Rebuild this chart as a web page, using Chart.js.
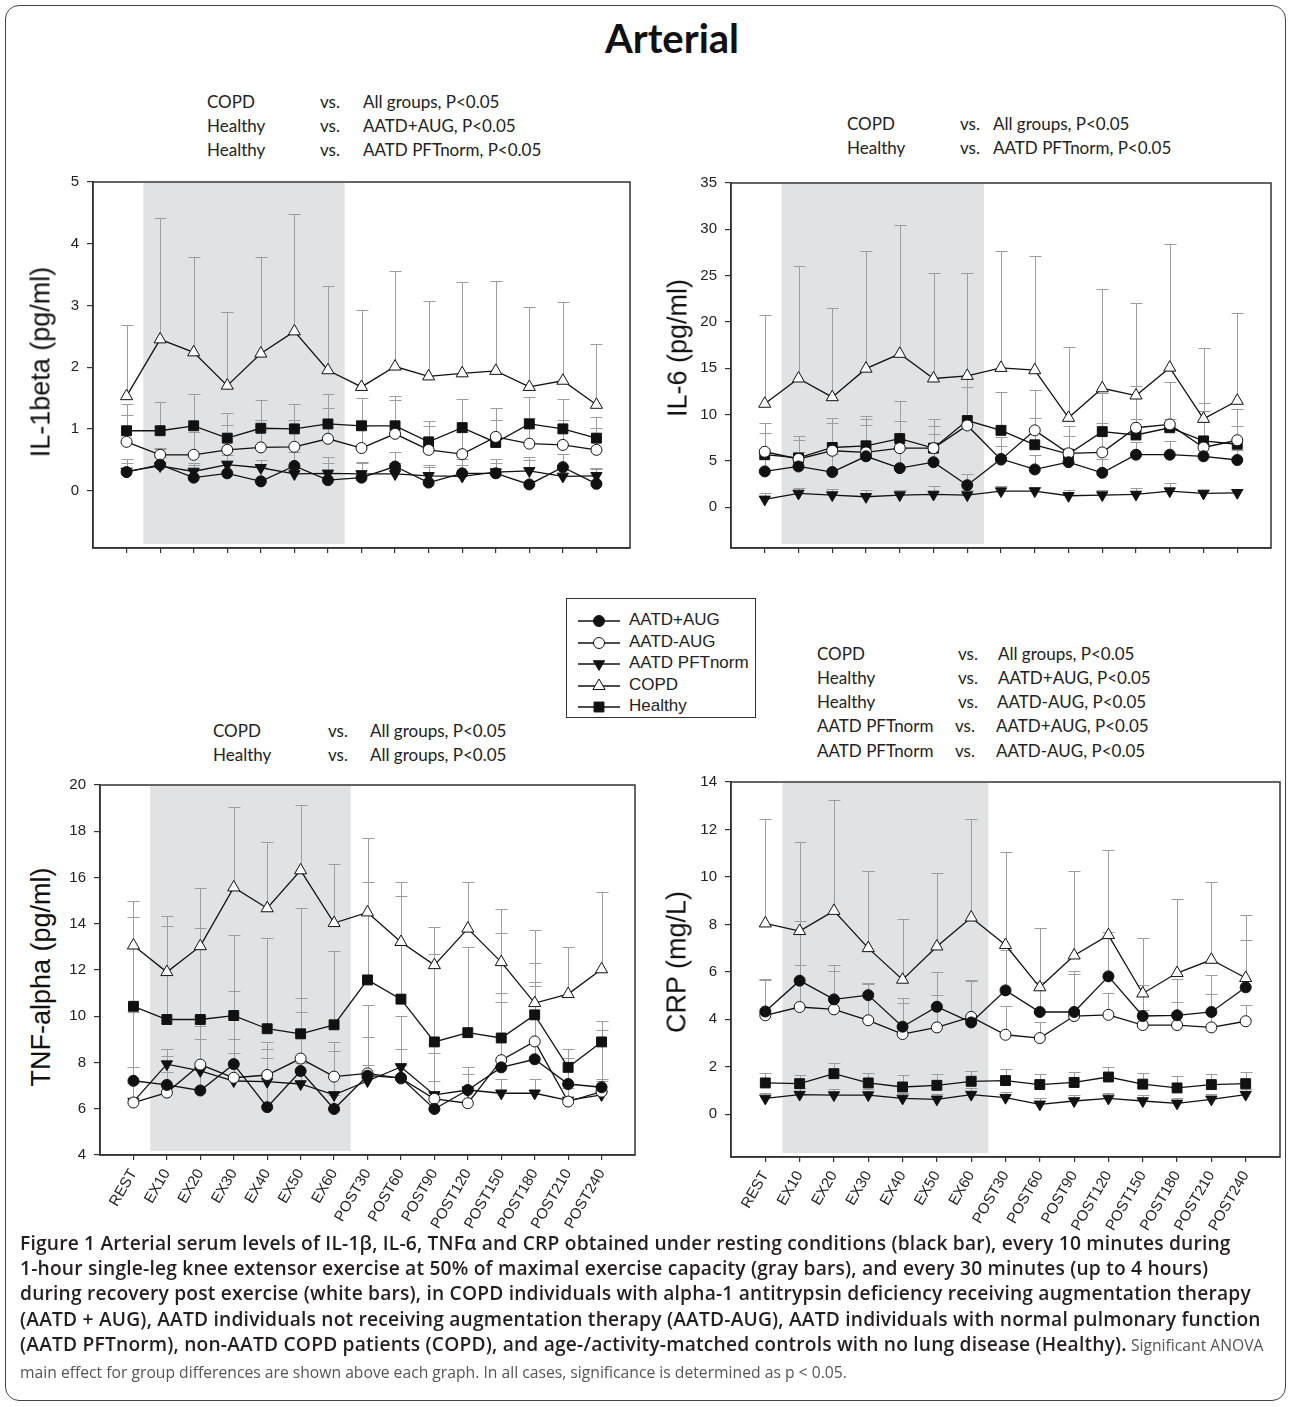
<!DOCTYPE html>
<html>
<head>
<meta charset="utf-8">
<title>Arterial</title>
<script src="https://cdn.jsdelivr.net/npm/chart.js"></script>
<style>
  body { margin: 0; background: #fff; }
  #page { position: relative; width: 1290px; height: 1407px; overflow: hidden; background: #fff; }
  #frame { position: absolute; left: 5px; top: 5px; width: 1281px; height: 1396px; box-sizing: border-box;
           border: 1.5px solid #444; border-radius: 14px; }
  #title { position: absolute; left: 0; width: 1344px; top: 14px; text-align: center;
           font: bold 40px Lato, sans-serif; color: #111; }
  canvas { position: absolute; }
  .note { position: absolute; left: 0; height: 24px; line-height: 24px; font: 17px Lato, sans-serif; color: #222; white-space: nowrap; }
  .note span { position: absolute; }
  .ytitle { position: absolute; transform: translate(-50%, -50%) rotate(-90deg); white-space: nowrap;
            font: 27px 'Liberation Sans', Arial, sans-serif; color: #111; }
  #legend { position: absolute; left: 566px; top: 598px; width: 190px; height: 120px; box-sizing: border-box;
            border: 1px solid #333; background: #fff; }
  .lrow { position: absolute; left: 0; height: 22px; width: 188px; }
  .lrow canvas { position: absolute; left: 11px; top: 3px; }
  .lrow span { position: absolute; left: 62px; top: 0; line-height: 22px; font: 17px 'Liberation Sans', Arial, sans-serif; color: #222; white-space: nowrap; }
  #caption { position: absolute; left: 20px; top: 1230px; font: 600 19.2px 'Open Sans', sans-serif; letter-spacing: 0.2px;
             line-height: 25.2px; color: #231f20; white-space: nowrap; }
  #caption .reg { font-weight: 400; font-size: 15.7px; letter-spacing: 0; color: #555; }
</style>
</head>
<body>
<div id="page">
  <div id="frame"></div>
  <div id="title">Arterial</div>

  <div class="note" style="top:91px"><span style="left:207px">COPD</span><span style="left:320px">vs.</span><span style="left:363px">All groups, P&lt;0.05</span></div>
  <div class="note" style="top:115px"><span style="left:207px">Healthy</span><span style="left:320px">vs.</span><span style="left:363px">AATD+AUG, P&lt;0.05</span></div>
  <div class="note" style="top:139px"><span style="left:207px">Healthy</span><span style="left:320px">vs.</span><span style="left:363px">AATD PFTnorm, P&lt;0.05</span></div>

  <div class="note" style="top:113px"><span style="left:847px">COPD</span><span style="left:960px">vs.</span><span style="left:993px">All groups, P&lt;0.05</span></div>
  <div class="note" style="top:137px"><span style="left:847px">Healthy</span><span style="left:960px">vs.</span><span style="left:993px">AATD PFTnorm, P&lt;0.05</span></div>

  <div class="note" style="top:720px"><span style="left:213px">COPD</span><span style="left:328px">vs.</span><span style="left:370px">All groups, P&lt;0.05</span></div>
  <div class="note" style="top:744px"><span style="left:213px">Healthy</span><span style="left:328px">vs.</span><span style="left:370px">All groups, P&lt;0.05</span></div>

  <div class="note" style="top:643px"><span style="left:817px">COPD</span><span style="left:958px">vs.</span><span style="left:998px">All groups, P&lt;0.05</span></div>
  <div class="note" style="top:667px"><span style="left:817px">Healthy</span><span style="left:958px">vs.</span><span style="left:998px">AATD+AUG, P&lt;0.05</span></div>
  <div class="note" style="top:691px"><span style="left:817px">Healthy</span><span style="left:958px">vs.</span><span style="left:997px">AATD-AUG, P&lt;0.05</span></div>
  <div class="note" style="top:715px"><span style="left:817px">AATD PFTnorm</span><span style="left:955px">vs.</span><span style="left:996px">AATD+AUG, P&lt;0.05</span></div>
  <div class="note" style="top:740px"><span style="left:817px">AATD PFTnorm</span><span style="left:955px">vs.</span><span style="left:996px">AATD-AUG, P&lt;0.05</span></div>

  <canvas id="il1b" width="600" height="400" style="left:50px;top:165px;width:600px;height:400px"></canvas>
  <canvas id="il6" width="600" height="399" style="left:688px;top:166px;width:600px;height:399px"></canvas>
  <canvas id="tnf" width="600" height="480" style="left:57px;top:768px;width:600px;height:480px"></canvas>
  <canvas id="crp" width="600" height="483" style="left:688px;top:765px;width:600px;height:483px"></canvas>

  <div class="ytitle" style="left:41px;top:362px">IL-1beta (pg/ml)</div>
  <div class="ytitle" style="left:678px;top:348px">IL-6 (pg/ml)</div>
  <div class="ytitle" style="left:41px;top:977px">TNF-alpha (pg/ml)</div>
  <div class="ytitle" style="left:677px;top:962px">CRP (mg/L)</div>

  <div id="legend"></div>

  <div id="caption">Figure 1 Arterial serum levels of IL-1β, IL-6, TNFα and CRP obtained under resting conditions (black bar), every 10 minutes during<br>1-hour single-leg knee extensor exercise at 50% of maximal exercise capacity (gray bars), and every 30 minutes (up to 4 hours)<br>during recovery post exercise (white bars), in COPD individuals with alpha-1 antitrypsin deficiency receiving augmentation therapy<br>(AATD + AUG), AATD individuals not receiving augmentation therapy (AATD-AUG), AATD individuals with normal pulmonary function<br>(AATD PFTnorm), non-AATD COPD patients (COPD), and age-/activity-matched controls with no lung disease (Healthy).<span class="reg"> Significant ANOVA</span><br><span class="reg">main effect for group differences are shown above each graph. In all cases, significance is determined as p &lt; 0.05.</span></div>
</div>

<script>
// time points (x axis)
const categories = ['REST', 'EX10', 'EX20', 'EX30', 'EX40', 'EX50', 'EX60',
  'POST30', 'POST60', 'POST90', 'POST120', 'POST150', 'POST180', 'POST210', 'POST240'];
const groups = ['AATD+AUG', 'AATD-AUG', 'AATD PFTnorm', 'COPD', 'Healthy'];

// IL-1beta (pg/ml): means and top of the error bar
const il1bAatdAug = [0.30, 0.42, 0.21, 0.28, 0.15, 0.40, 0.17, 0.21, 0.39, 0.13, 0.28, 0.28, 0.10, 0.38, 0.11];
const il1bAatdAugTop = [0.52, 0.68, 0.42, 0.50, 0.38, 0.62, 0.45, 0.45, 0.62, 0.42, 0.52, 0.52, 0.50, 0.60, 0.35];
const il1bAatdNoAug = [0.79, 0.58, 0.58, 0.66, 0.70, 0.71, 0.84, 0.69, 0.92, 0.66, 0.59, 0.87, 0.76, 0.74, 0.66];
const il1bAatdNoAugTop = [1.23, 0.69, 0.95, 1.06, 1.15, 1.15, 1.34, 1.05, 1.47, 1.05, 0.95, 1.15, 1.18, 1.15, 1.02];
const il1bPftNorm = [0.31, 0.40, 0.31, 0.42, 0.37, 0.27, 0.28, 0.27, 0.27, 0.24, 0.23, 0.30, 0.32, 0.23, 0.24];
const il1bPftNormTop = [0.45, 0.55, 0.45, 0.58, 0.50, 0.40, 0.54, 0.46, 0.45, 0.38, 0.42, 0.45, 0.55, 0.40, 0.36];
const il1bCopd = [1.53, 2.45, 2.24, 1.70, 2.22, 2.58, 1.95, 1.68, 2.01, 1.85, 1.90, 1.94, 1.68, 1.78, 1.39];
const il1bCopdTop = [2.69, 4.42, 3.79, 2.89, 3.79, 4.48, 3.31, 2.93, 3.55, 3.07, 3.38, 3.39, 2.98, 3.05, 2.38];
const il1bHealthy = [0.97, 0.97, 1.05, 0.85, 1.01, 1.00, 1.08, 1.05, 1.05, 0.79, 1.02, 0.78, 1.08, 1.00, 0.85];
const il1bHealthyTop = [1.40, 1.43, 1.56, 1.26, 1.47, 1.40, 1.57, 1.50, 1.54, 1.12, 1.48, 1.34, 1.52, 1.48, 1.20];
const il1bTicks = [0, 1, 2, 3, 4, 5];

// IL-6 (pg/ml)
const il6AatdAug = [3.87, 4.40, 3.80, 5.50, 4.22, 4.86, 2.38, 5.21, 4.08, 4.86, 3.72, 5.67, 5.67, 5.50, 5.10];
const il6AatdAugTop = [5.6, 6.0, 5.8, 8.9, 6.3, 7.9, 3.6, 6.6, 5.6, 6.3, 5.2, 7.0, 7.2, 6.8, 6.2];
const il6AatdNoAug = [5.99, 5.21, 6.10, 5.92, 6.38, 6.38, 8.83, 5.14, 8.30, 5.82, 5.92, 8.58, 8.94, 6.45, 7.23];
const il6AatdNoAugTop = [9.1, 7.3, 9.1, 9.5, 9.3, 8.8, 13.0, 7.6, 12.7, 7.7, 9.1, 13.1, 9.5, 10.4, 8.8];
const il6PftNorm = [0.85, 1.49, 1.31, 1.13, 1.31, 1.38, 1.31, 1.74, 1.74, 1.24, 1.31, 1.38, 1.74, 1.49, 1.56];
const il6PftNormTop = [1.5, 2.1, 2.0, 1.9, 1.9, 2.3, 1.9, 2.3, 2.2, 1.9, 1.9, 2.1, 2.6, 1.9, 2.0];
const il6Copd = [11.17, 13.90, 11.88, 14.96, 16.56, 13.90, 14.18, 15.04, 14.79, 9.65, 12.84, 12.06, 15.07, 9.54, 11.49];
const il6CopdTop = [20.7, 26.0, 21.5, 27.7, 30.5, 25.3, 25.3, 27.7, 27.1, 17.3, 23.6, 22.0, 28.4, 17.2, 21.0];
const il6Healthy = [5.67, 5.32, 6.45, 6.63, 7.41, 6.38, 9.36, 8.30, 6.74, 5.74, 8.16, 7.80, 8.58, 7.16, 6.80];
const il6HealthyTop = [8.05, 7.7, 9.6, 9.8, 11.5, 9.5, 14.0, 12.4, 9.6, 8.8, 12.3, 9.5, 13.5, 11.2, 10.6];
const il6Ticks = [0, 5, 10, 15, 20, 25, 30, 35];

// TNF-alpha (pg/ml)
const tnfAatdAug = [7.21, 7.03, 6.79, 7.93, 6.07, 7.63, 5.99, 7.43, 7.34, 5.99, 6.81, 7.79, 8.14, 7.07, 6.93];
const tnfAatdAugTop = [10.2, 8.3, 9.0, 11.1, 8.6, 10.2, 6.6, 9.1, 10.0, 8.4, 7.8, 10.6, 11.3, 8.2, 9.4];
const tnfAatdNoAug = [6.27, 6.70, 7.91, 7.34, 7.46, 8.17, 7.39, 7.53, 7.31, 6.43, 6.24, 8.10, 8.91, 6.31, 6.74];
const tnfAatdNoAugTop = [7.8, 7.6, 10.0, 9.0, 8.9, 10.8, 8.9, 10.5, 7.9, 8.8, 6.9, 11.0, 11.5, 6.9, 7.3];
const tnfPftNorm = [6.31, 7.93, 7.64, 7.20, 7.17, 7.07, 6.60, 7.20, 7.81, 6.60, 6.81, 6.67, 6.67, 6.36, 6.60];
const tnfPftNormTop = [7.1, 8.6, 9.6, 8.4, 8.2, 8.0, 8.5, 7.9, 8.6, 7.2, 7.5, 7.3, 7.3, 7.0, 7.2];
const tnfCopd = [13.06, 11.91, 13.03, 15.57, 14.67, 16.31, 14.03, 14.49, 13.21, 12.21, 13.79, 12.34, 10.57, 10.96, 12.03];
const tnfCopdTop = [15.0, 14.34, 15.53, 19.07, 17.53, 19.14, 16.57, 17.71, 15.81, 13.86, 15.81, 14.63, 13.71, 12.99, 15.36];
const tnfHealthy = [10.43, 9.86, 9.86, 10.03, 9.46, 9.24, 9.63, 11.57, 10.74, 8.89, 9.29, 9.06, 10.06, 7.79, 8.89];
const tnfHealthyTop = [14.3, 13.9, 13.8, 13.5, 13.4, 14.7, 12.8, 15.8, 15.2, 12.7, 13.0, 13.6, 12.3, 8.6, 9.8];
const tnfTicks = [4, 6, 8, 10, 12, 14, 16, 18, 20];

// CRP (mg/L)
const crpAatdAug = [4.33, 5.63, 4.84, 5.02, 3.69, 4.53, 3.87, 5.22, 4.31, 4.31, 5.81, 4.14, 4.17, 4.31, 5.35];
const crpAatdAugTop = [5.72, 8.15, 6.27, 5.54, 4.88, 6.00, 5.65, 6.93, 5.58, 6.05, 7.66, 5.45, 5.72, 5.86, 7.34];
const crpAatdNoAug = [4.17, 4.52, 4.42, 3.96, 3.38, 3.66, 4.10, 3.35, 3.21, 4.14, 4.19, 3.76, 3.76, 3.66, 3.92];
const crpAatdNoAugTop = [5.67, 6.27, 6.05, 5.50, 4.67, 5.02, 5.60, 4.56, 3.90, 5.91, 5.10, 4.40, 4.73, 5.08, 4.60];
const crpPftNorm = [0.67, 0.83, 0.81, 0.81, 0.67, 0.63, 0.83, 0.70, 0.42, 0.56, 0.67, 0.56, 0.46, 0.63, 0.83];
const crpPftNormTop = [0.90, 1.10, 1.05, 1.05, 0.90, 0.85, 1.10, 0.95, 0.70, 0.80, 0.90, 0.80, 0.70, 0.85, 1.05];
const crpCopd = [8.04, 7.72, 8.57, 7.00, 5.67, 7.07, 8.29, 7.13, 5.35, 6.69, 7.55, 5.09, 5.95, 6.51, 5.74];
const crpCopdTop = [12.42, 11.47, 13.24, 10.26, 8.22, 10.18, 12.45, 11.07, 7.86, 10.24, 11.13, 7.44, 9.05, 9.78, 8.39];
const crpHealthy = [1.32, 1.29, 1.71, 1.32, 1.15, 1.22, 1.39, 1.42, 1.25, 1.34, 1.57, 1.27, 1.11, 1.25, 1.29];
const crpHealthyTop = [1.75, 1.67, 2.16, 1.75, 1.64, 1.71, 1.82, 1.89, 1.68, 1.78, 1.99, 1.74, 1.61, 1.68, 1.78];
const crpTicks = [0, 2, 4, 6, 8, 10, 12, 14];

// exercise period (gray band), in x units
const exerciseBand = [0.5, 6.5];

// marker look per group, same order as groups
const groupStyle = [
  { shape: 'circle', fill: '#111', radius: 5.5, rotation: 0 },
  { shape: 'circle', fill: '#fff', radius: 5.5, rotation: 0 },
  { shape: 'triangle', fill: '#111', radius: 6.5, rotation: 180 },
  { shape: 'triangle', fill: '#fff', radius: 7, rotation: 0 },
  { shape: 'rect', fill: '#111', radius: 7, rotation: 0 }
];

Chart.defaults.font.family = "'Liberation Sans', Arial, sans-serif";
Chart.defaults.color = '#222';

// gray band + upward error bars behind the lines, box around the plot
const panelDecor = {
  id: 'panelDecor',
  beforeDatasetsDraw(chart) {
    const { ctx, chartArea: a, scales: { x, y } } = chart;
    ctx.save();
    const x0 = x.getPixelForValue(exerciseBand[0]);
    const x1 = x.getPixelForValue(exerciseBand[1]);
    ctx.fillStyle = '#e1e2e4';
    ctx.fillRect(x0, a.top + 1, x1 - x0, a.bottom - a.top - 5);

    ctx.strokeStyle = '#9d9d9d';
    ctx.lineWidth = 1;
    chart.data.datasets.forEach(ds => {
      ds.data.forEach((p, i) => {
        const px = Math.round(x.getPixelForValue(p.x)) + 0.5;
        const py = y.getPixelForValue(p.y);
        const pt = Math.round(y.getPixelForValue(ds.errTop[i])) + 0.5;
        ctx.beginPath();
        ctx.moveTo(px, py);
        ctx.lineTo(px, pt);
        ctx.moveTo(px - 6, pt);
        ctx.lineTo(px + 6, pt);
        ctx.stroke();
      });
    });
    ctx.restore();
  },
  afterDraw(chart) {
    const { ctx, chartArea: a } = chart;
    ctx.save();
    ctx.strokeStyle = '#333';
    ctx.lineWidth = 1.5;
    ctx.strokeRect(a.left, a.top, a.right - a.left, a.bottom - a.top);
    ctx.restore();
  }
};

function buildPanel(cfg) {
  const datasets = cfg.series.map((vals, g) => ({
    label: groups[g],
    data: vals.map((v, i) => ({ x: i, y: v })),
    errTop: cfg.tops[g],
    borderColor: '#111',
    borderWidth: 1.3,
    pointStyle: groupStyle[g].shape,
    pointRotation: groupStyle[g].rotation,
    pointRadius: groupStyle[g].radius,
    pointBackgroundColor: groupStyle[g].fill,
    pointBorderColor: '#111',
    pointBorderWidth: 1,
    tension: 0
  }));

  return new Chart(document.getElementById(cfg.id), {
    type: 'line',
    data: { datasets },
    plugins: [panelDecor],
    options: {
      responsive: false,
      animation: false,
      events: [],
      layout: { padding: { top: 12, right: cfg.padRight, left: 0, bottom: 0 } },
      plugins: { legend: { display: false }, tooltip: { enabled: false } },
      scales: {
        x: {
          type: 'linear', min: -1, max: 15,
          afterBuildTicks: s => { s.ticks = categories.map((c, i) => ({ value: i })); },
          afterFit: s => { s.height = cfg.xHeight; },
          grid: { drawOnChartArea: false, drawTicks: true, tickLength: 5, color: '#333', lineWidth: 1.2 },
          border: { display: true, color: '#333', width: 1.5 },
          ticks: {
            display: cfg.showLabels, autoSkip: false, minRotation: 60, maxRotation: 60, padding: 6,
            font: { size: 15 }, color: '#222',
            callback: v => categories[v]
          }
        },
        y: {
          min: cfg.ymin, max: cfg.ymax,
          afterBuildTicks: s => { s.ticks = cfg.ticks.map(v => ({ value: v })); },
          afterFit: s => { s.width = 43; },
          grid: { drawOnChartArea: false, tickLength: 6, color: '#333', lineWidth: 1.2 },
          border: { display: true, color: '#333', width: 1.5 },
          ticks: { font: { size: 15 }, color: '#222', padding: 8 }
        }
      }
    }
  });
}

buildPanel({
  id: 'il1b', ymin: -0.93, ymax: 5, ticks: il1bTicks, padRight: 20, xHeight: 17, showLabels: false,
  series: [il1bAatdAug, il1bAatdNoAug, il1bPftNorm, il1bCopd, il1bHealthy],
  tops: [il1bAatdAugTop, il1bAatdNoAugTop, il1bPftNormTop, il1bCopdTop, il1bHealthyTop]
});
buildPanel({
  id: 'il6', ymin: -4.4, ymax: 35, ticks: il6Ticks, padRight: 17, xHeight: 17, showLabels: false,
  series: [il6AatdAug, il6AatdNoAug, il6PftNorm, il6Copd, il6Healthy],
  tops: [il6AatdAugTop, il6AatdNoAugTop, il6PftNormTop, il6CopdTop, il6HealthyTop]
});
buildPanel({
  id: 'tnf', ymin: 4, ymax: 20, ticks: tnfTicks, padRight: 22, xHeight: 93, showLabels: true,
  series: [tnfAatdAug, tnfAatdNoAug, tnfPftNorm, tnfCopd, tnfHealthy],
  tops: [tnfAatdAugTop, tnfAatdNoAugTop, tnfPftNormTop, tnfCopdTop, tnfHealthyTop]
});
buildPanel({
  id: 'crp', ymin: -1.8, ymax: 14, ticks: crpTicks, padRight: 8, xHeight: 91, showLabels: true,
  series: [crpAatdAug, crpAatdNoAug, crpPftNorm, crpCopd, crpHealthy],
  tops: [crpAatdAugTop, crpAatdNoAugTop, crpPftNormTop, crpCopdTop, crpHealthyTop]
});

// legend: a line with the group's marker, then the name
const legend = document.getElementById('legend');
groups.forEach((name, g) => {
  const row = document.createElement('div');
  row.className = 'lrow';
  row.style.top = (11 + g * 21.6) + 'px';
  const c = document.createElement('canvas');
  c.width = 44; c.height = 16;
  const ctx = c.getContext('2d');
  ctx.strokeStyle = '#111';
  ctx.lineWidth = 1.3;
  ctx.beginPath(); ctx.moveTo(0, 8); ctx.lineTo(42, 8); ctx.stroke();
  ctx.fillStyle = groupStyle[g].fill;
  ctx.lineWidth = 1;
  const st = { pointStyle: groupStyle[g].shape, rotation: groupStyle[g].rotation, radius: groupStyle[g].radius, borderWidth: 1 };
  if (Chart.helpers && Chart.helpers.drawPoint) {
    Chart.helpers.drawPoint(ctx, st, 21, 8);
  } else {
    ctx.beginPath(); ctx.arc(21, 8, 5, 0, Math.PI * 2); ctx.fill(); ctx.stroke();
  }
  const label = document.createElement('span');
  label.textContent = name;
  row.appendChild(c);
  row.appendChild(label);
  legend.appendChild(row);
});
</script>
</body>
</html>
